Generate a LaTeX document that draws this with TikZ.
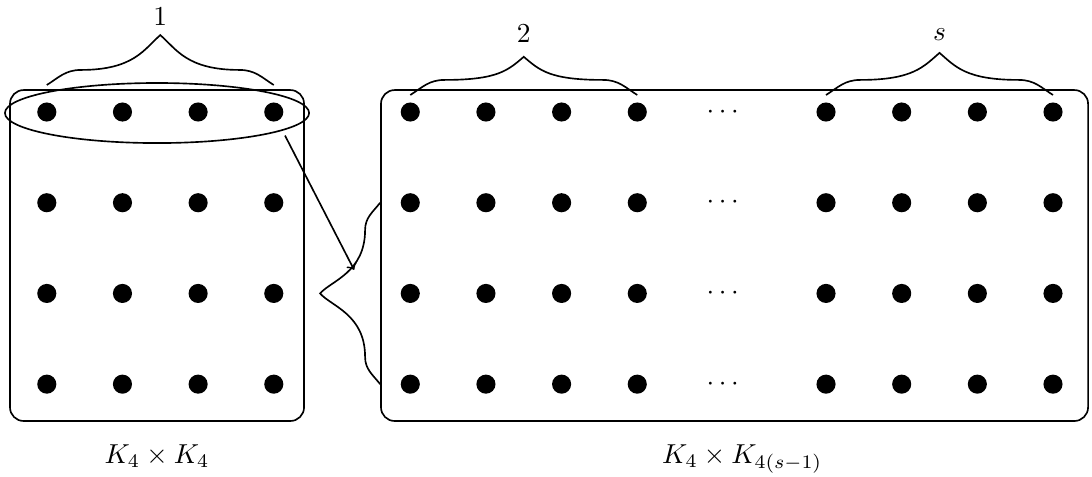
\documentclass[tikz,border=0pt]{standalone}
\usepackage{amsmath}
\usepackage{tikz}
\usetikzlibrary{positioning}
\usetikzlibrary{shapes.geometric}
\usetikzlibrary{decorations}

% flat curly bracket: low arms, tall pointed middle
\pgfdeclaredecoration{curly}{curly}{%
  \state{curly}[width=+\pgfdecoratedpathlength, next state=final]{%
    \pgfmathsetlengthmacro{\curlylen}{\pgfdecoratedpathlength}%
    \pgfmathsetlengthmacro{\curlyhalf}{0.5*\curlylen}%
    \pgfmathsetlengthmacro{\curlyamp}{\pgfdecorationsegmentamplitude}%
    \pgfmathsetlengthmacro{\curlymid}{0.3*\curlyhalf}%
    \pgfmathsetlengthmacro{\curlypush}{0.77*\curlyhalf}%
    \pgfmathsetlengthmacro{\curlyrun}{0.14*\curlyhalf}%
    \pgfmathsetlengthmacro{\curlyrise}{\curlyamp-0.12*\curlyhalf}%
    \def\curlyflat{5.5pt}%
    \pgfpathmoveto{\pgfpointorigin}%
    \pgfpathcurveto{\pgfpoint{0.35*\curlymid}{0.5*\curlyflat}}{\pgfpoint{0.55*\curlymid}{\curlyflat}}{\pgfpoint{\curlymid}{\curlyflat}}%
    \pgfpathcurveto{\pgfpoint{\curlypush}{\curlyflat}}{\pgfpoint{\curlyhalf-\curlyrun}{\curlyrise}}{\pgfpoint{\curlyhalf}{\curlyamp}}%
    \pgfpathcurveto{\pgfpoint{\curlyhalf+\curlyrun}{\curlyrise}}{\pgfpoint{\curlylen-\curlypush}{\curlyflat}}{\pgfpoint{\curlylen-\curlymid}{\curlyflat}}%
    \pgfpathcurveto{\pgfpoint{\curlylen-0.55*\curlymid}{\curlyflat}}{\pgfpoint{\curlylen-0.35*\curlymid}{0.5*\curlyflat}}{\pgfpoint{\curlylen}{0pt}}%
  }%
  \state{final}{}%
}

\begin{document}
\begin{tikzpicture}[
                          vertex/.style={circle, fill, inner sep=0pt, minimum size=2.45mm},
                          roundbox/.style={rectangle, draw, semithick, rounded corners=5pt, minimum height=4.243cm},
                          bracedeco/.style={decorate, semithick, decoration={curly, amplitude=#1}},
                      ]
                      \useasboundingbox (0,0) rectangle (14,-6.115);

                      %Boxes
                      \node[roundbox, minimum width=3.77cm]  (lbox) at (2.013,-3.276) {};
                      \node[roundbox, minimum width=9.065cm] (rbox) at (9.417,-3.276) {};

                      %Vertices
                      \foreach \r in {1,...,4} {
                        \foreach \c in {1,...,4}
                          \node[vertex] (a\r\c) at ({0.6+0.97*(\c-1)}, {-1.436-1.163*(\r-1)}) {};
                        \foreach \c in {1,...,4}
                          \node[vertex] (b\r\c) at ({5.26+0.97*(\c-1)}, {-1.436-1.163*(\r-1)}) {};
                        \foreach \c in {5,...,8}
                          \node[vertex] (b\r\c) at ({10.59+0.97*(\c-5)}, {-1.436-1.163*(\r-1)}) {};
                        \node (dots\r) at (9.295, {-1.436-1.163*(\r-1)}) {$\cdots$};
                      }

                      %Top row of K_4 x K_4
                      \node[ellipse, draw, semithick, minimum width=3.9cm, minimum height=0.77cm, inner sep=0pt] (toprow) at (2.013,-1.449) {};

                      %Braces
                      \draw[bracedeco=0.64cm] ([yshift=0.346cm]a11.center) -- ([yshift=0.346cm]a14.center)
                          node[midway, above=0.64cm] (one) {$1$};
                      \draw[bracedeco=0.49cm] ([yshift=0.218cm]b11.center) -- ([yshift=0.218cm]b14.center)
                          node[midway, above=0.55cm] (two) {$2$};
                      \draw[bracedeco=0.54cm] ([yshift=0.218cm]b15.center) -- ([yshift=0.218cm]b18.center)
                          node[midway, above=0.57cm] (last) {$s$};
                      \draw[bracedeco=0.77cm] (rbox.west |- b41) -- (rbox.west |- b21);

                      %Lines
                      \coordinate (into) at (4.54,-3.46);
                      \draw[->, semithick, shorten <=2pt] (toprow.-8) -- (into);

                      %Labels
                      \node[below=0.17cm of lbox]              (lname) {$K_4 \times K_4$};
                      \node[below=0.17cm of rbox, xshift=0.1cm] (rname) {$K_4 \times K_{4(s-1)}$};
                  \end{tikzpicture}
\end{document}
